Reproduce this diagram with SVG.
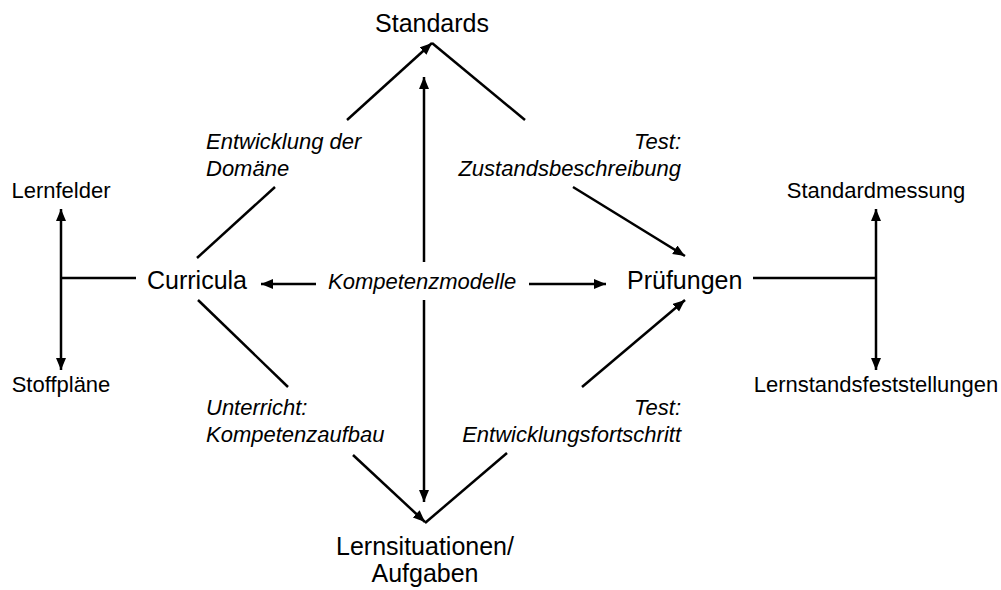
<svg xmlns="http://www.w3.org/2000/svg" width="1001" height="590" viewBox="0 0 1001 590">
<style>
.n{font-family:"Liberation Sans",Arial,sans-serif;font-size:25px;fill:#000}
.s{font-family:"Liberation Sans",Arial,sans-serif;font-size:22px;fill:#000}
.i{font-family:"Liberation Sans",Arial,sans-serif;font-size:22px;font-style:italic;fill:#000}
.c line{stroke:#000;stroke-width:2.5;fill:none}
</style>
<defs>
<marker id="ah" markerUnits="userSpaceOnUse" markerWidth="14" markerHeight="12" refX="12" refY="5" orient="auto">
<path d="M0,0 L12,5 L0,10 Z" fill="#000"/>
</marker>
<marker id="ahs" markerUnits="userSpaceOnUse" markerWidth="14" markerHeight="12" refX="0" refY="5" orient="auto">
<path d="M12,0 L0,5 L12,10 Z" fill="#000"/>
</marker>
</defs>
<rect width="1001" height="590" fill="#fff"/>
<g class="c" id="connectors">
<line x1="197" y1="258" x2="275" y2="187"/>
<line x1="347" y1="120" x2="432" y2="43" marker-end="url(#ah)"/>
<line x1="432" y1="43" x2="525" y2="120"/>
<line x1="573" y1="187" x2="685" y2="256" marker-end="url(#ah)"/>
<line x1="198" y1="300" x2="288" y2="387"/>
<line x1="353" y1="455" x2="425" y2="522" marker-end="url(#ah)"/>
<line x1="425" y1="523" x2="507" y2="453"/>
<line x1="582" y1="387" x2="685" y2="300" marker-end="url(#ah)"/>
<line x1="424" y1="262" x2="424" y2="77" marker-end="url(#ah)"/>
<line x1="424" y1="300" x2="424" y2="502" marker-end="url(#ah)"/>
<line x1="316" y1="284" x2="261" y2="284" marker-end="url(#ah)"/>
<line x1="529" y1="284" x2="606" y2="284" marker-end="url(#ah)"/>
<line x1="61" y1="278" x2="136" y2="278"/>
<line x1="61" y1="370" x2="61" y2="209" marker-start="url(#ahs)" marker-end="url(#ah)"/>
<line x1="753" y1="278" x2="876" y2="278"/>
<line x1="876" y1="370" x2="876" y2="209" marker-start="url(#ahs)" marker-end="url(#ah)"/>
</g>
<g id="standards"><text class="n" x="432" y="32" text-anchor="middle">Standards</text></g>
<g id="curricula"><text class="n" x="147" y="289">Curricula</text></g>
<g id="pruefungen"><text class="n" x="627" y="289">Prüfungen</text></g>
<g id="lernsituationen"><text class="n" x="425" y="555" text-anchor="middle">Lernsituationen/</text><text class="n" x="425" y="582" text-anchor="middle">Aufgaben</text></g>
<g id="kompetenzmodelle"><text class="i" x="328" y="289">Kompetenzmodelle</text></g>
<g id="lernfelder"><text class="s" x="61" y="198" text-anchor="middle">Lernfelder</text></g>
<g id="stoffplaene"><text class="s" x="61" y="392" text-anchor="middle">Stoffpläne</text></g>
<g id="standardmessung"><text class="s" x="876" y="198" text-anchor="middle">Standardmessung</text></g>
<g id="lernstand"><text class="s" x="876" y="392" text-anchor="middle">Lernstandsfeststellungen</text></g>
<g id="label-entwicklung"><text class="i" x="206" y="149">Entwicklung der</text><text class="i" x="206" y="176">Domäne</text></g>
<g id="label-test1"><text class="i" x="681" y="149" text-anchor="end">Test:</text><text class="i" x="681" y="176" text-anchor="end">Zustandsbeschreibung</text></g>
<g id="label-unterricht"><text class="i" x="206" y="415">Unterricht:</text><text class="i" x="206" y="442">Kompetenzaufbau</text></g>
<g id="label-test2"><text class="i" x="681" y="415" text-anchor="end">Test:</text><text class="i" x="681" y="442" text-anchor="end">Entwicklungsfortschritt</text></g>
</svg>
